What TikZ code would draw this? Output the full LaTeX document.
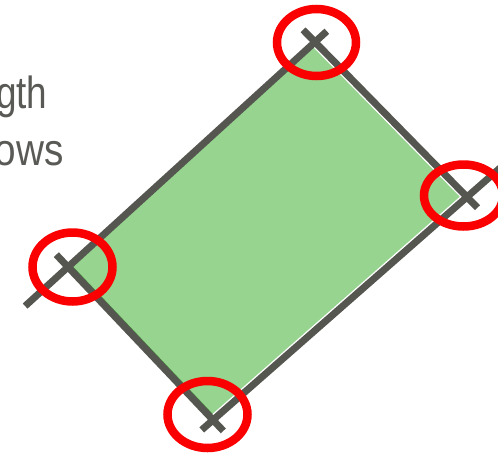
\documentclass[tikz,border=0pt]{standalone}
\usepackage{fontspec}
\setmainfont{Liberation Sans}
\usetikzlibrary{calc}
\definecolor{leaf}{RGB}{150,212,143}
\definecolor{leafdark}{RGB}{70,135,60}
\definecolor{slate}{RGB}{85,86,80}
\definecolor{txtgray}{RGB}{89,89,86}
\definecolor{ringred}{RGB}{250,0,0}
\tikzset{
  grayline/.style={draw=slate, line width=7pt, line cap=butt},
  redring/.style={draw=ringred, line width=8.5pt},
  greenfill/.style={fill=leaf, draw=none},
  txt/.style={text=txtgray, inner sep=0pt, font=\fontsize{45}{54}\selectfont}
}
\begin{document}
\begin{tikzpicture}[x=1pt,y=-1pt]
\useasboundingbox (0,0) rectangle (498,453);
% corners of the gray outline
\coordinate (T) at (315,42);
\coordinate (R) at (467,197);
\coordinate (B) at (213,420);
\coordinate (L) at (68,267);
% corners of the green face
\coordinate (Lg) at (72.3,267.2);
\coordinate (Tg) at (313.4,47.5);
\coordinate (Rg) at (459.7,196.7);
\coordinate (Bg) at (211.8,414.4);
\path[greenfill] (Lg) -- (Tg) -- (Rg) -- (Bg) -- cycle;
\draw[draw=leafdark, line width=2pt] (Lg) -- (Bg);
% gray lines
\draw[grayline] ($(L)!-58pt!(T)$) -- ($(T)!-16pt!(L)$);
\draw[grayline] ($(T)!-17pt!(R)$) -- ($(R)!-15pt!(T)$);
\draw[grayline] ($(B)!-15pt!(R)$) -- ($(R)!-60pt!(B)$);
\draw[grayline] ($(L)!-17pt!(B)$) -- ($(B)!-15pt!(L)$);
% red rings
\coordinate (cT) at (316.5,42.5);
\coordinate (cR) at (463.5,195.5);
\coordinate (cL) at (72.5,267);
\coordinate (cB) at (207.5,414.5);
\draw[redring] (cT) ellipse [x radius=39.5pt, y radius=33.5pt];
\draw[redring] (cR) ellipse [x radius=39.5pt, y radius=31pt];
\draw[redring] (cL) ellipse [x radius=40pt, y radius=34.5pt];
\draw[redring] (cB) ellipse [x radius=40pt, y radius=33.5pt];
% text
\node[txt, anchor=base east] (t1) at (47.5,108) {\scalebox{0.82}[1]{gth}};
\node[txt, anchor=base east] (t2) at (64,165) {\scalebox{0.86}[1]{ows}};
\end{tikzpicture}
\end{document}
